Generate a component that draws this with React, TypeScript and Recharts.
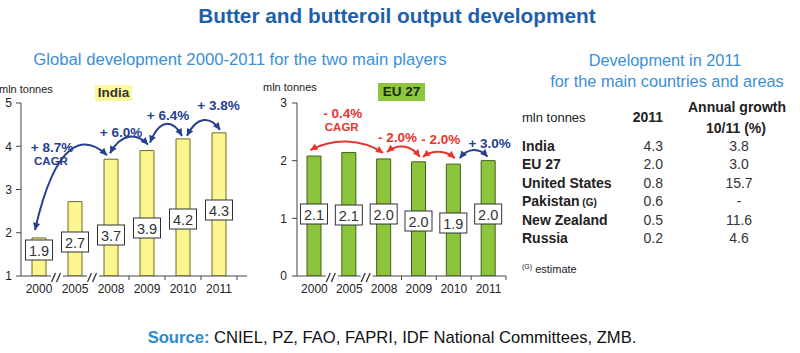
import React from 'react';
import { BarChart, Bar, XAxis, YAxis, ReferenceLine, LabelList } from 'recharts';

const FONT = '"Liberation Sans", Arial, sans-serif';
const NAVY = '#263f8e';
const RED = '#e8342f';
const TITLE_BLUE = '#1f5fa9';
const SUB_BLUE = '#3a8fd6';

// ---------- data ----------
const years = ['2000', '2005', '2008', '2009', '2010', '2011'];
const indiaOutput = [1.88, 2.72, 3.7, 3.9, 4.17, 4.31];
const euOutput = [2.08, 2.14, 2.03, 1.98, 1.94, 2.0];
const indiaTicks = [1, 2, 3, 4, 5];
const euTicks = [0, 1, 2, 3];

const arrowFrom = [0, 2, 3, 4];
const arrowTo = [2, 3, 4, 5];
const indiaGrowth = ['+ 8.7%', '+ 6.0%', '+ 6.4%', '+ 3.8%'];
const euGrowth = ['- 0.4%', '- 2.0%', '- 2.0%', '+ 3.0%'];
const growthNote = ['CAGR', '', '', ''];
const breakFrom = [0, 1];
const breakTo = [1, 2];

const tableCountries = ['India', 'EU 27', 'United States', 'Pakistan', 'New Zealand', 'Russia'];
const tableEstimate = [false, false, false, true, false, false];
const table2011 = [4.3, 2.0, 0.8, 0.6, 0.5, 0.2];
const tableGrowth = ['3.8', '3.0', '15.7', '-', '11.6', '4.6'];

// ---------- layout (annotation placement) ----------
const INDIA_BOX_LIFT = [26, 34, 41, 48, 57, 66];
const EU_BOX_LIFT = [62, 61, 62, 55, 53, 62];
const INDIA_ARROWS = [
  { sdx: -4, edx: -4, sgap: 8, egap: 4, bend: 20, ldx: -19, ldy: -8, color: NAVY },
  { sdx: -1, edx: 1, sgap: 6, egap: 6, bend: 12, ldx: -8, ldy: -12, color: NAVY },
  { sdx: 3, edx: -1, sgap: 8, egap: 3, bend: 17, ldx: 2, ldy: -20, color: NAVY },
  { sdx: 4, edx: 1, sgap: 3, egap: 3, bend: 14, ldx: 15, ldy: -24, color: NAVY },
];
const EU_ARROWS = [
  { sdx: -4, edx: -1, sgap: 6, egap: 6, bend: 12, ldx: -4, ldy: -37, color: RED },
  { sdx: 3, edx: 1, sgap: 7, egap: 5, bend: 8, ldx: -6, ldy: -14, color: RED },
  { sdx: 4, edx: 1, sgap: 5, egap: 6, bend: 7, ldx: 2, ldy: -17, color: RED },
  { sdx: 6, edx: -1, sgap: 6, egap: 4, bend: 9, ldx: 16, ldy: -13, color: NAVY },
];

const indiaData = years.map((year, i) => ({ year, v: indiaOutput[i] }));
const euData = years.map((year, i) => ({ year, v: euOutput[i] }));

function arrowHead(tx: number, ty: number, fx: number, fy: number, color: string) {
  const ang = Math.atan2(ty - fy, tx - fx);
  const L = 7;
  const W = 3.6;
  const bx = tx - L * Math.cos(ang);
  const by = ty - L * Math.sin(ang);
  const px = -Math.sin(ang) * W;
  const py = Math.cos(ang) * W;
  return <polygon points={`${tx},${ty} ${bx + px},${by + py} ${bx - px},${by - py}`} fill={color} />;
}

function makeArrow(cfg: any, label: string, note: string) {
  return (p: any) => {
    const ax = p.x1 + cfg.sdx;
    const ay = p.y1 - cfg.sgap;
    const bx = p.x2 + cfg.edx;
    const by = p.y2 - cfg.egap;
    const top = Math.min(ay, by);
    const yc = top - cfg.bend;
    const dx = bx - ax;
    const c1x = ax + dx * 0.3;
    const c2x = bx - dx * 0.3;
    const path = `M${ax},${ay} C${c1x},${yc} ${c2x},${yc} ${bx},${by}`;
    const lx = (ax + bx) / 2 + cfg.ldx;
    const ly = top + cfg.ldy;
    return (
      <g>
        <path d={path} fill="none" stroke={cfg.color} strokeWidth={2} />
        {arrowHead(ax, ay, c1x, yc, cfg.color)}
        {arrowHead(bx, by, c2x, yc, cfg.color)}
        <text x={lx} y={ly} textAnchor="middle" dominantBaseline="central" fill={cfg.color}
          style={{ fontSize: 13.5, fontWeight: 700, fontFamily: FONT }}>{label}</text>
        {note ? (
          <text x={lx - 1} y={ly + 13.5} textAnchor="middle" dominantBaseline="central" fill={cfg.color}
            style={{ fontSize: 11.5, fontWeight: 700, fontFamily: FONT }}>{note}</text>
        ) : null}
      </g>
    );
  };
}

const BreakShape = (p: any) => {
  const mx = (p.x1 + p.x2) / 2;
  const y = p.y1;
  return (
    <g>
      <rect x={mx - 6} y={y - 2} width={12} height={4} fill="#fff" />
      <line x1={mx - 5.5} y1={y + 6} x2={mx - 1.5} y2={y - 3} stroke="#333" strokeWidth={1.3} />
      <line x1={mx - 0.5} y1={y + 6} x2={mx + 3.5} y2={y - 3} stroke="#333" strokeWidth={1.3} />
    </g>
  );
};

function makeTick(halfBand: number) {
  return (p: any) => {
    const { x, y, payload } = p;
    const idx = payload?.index ?? years.indexOf(String(payload?.value));
    const off = payload?.offset > 0 ? payload.offset : halfBand;
    const axisY = y - 8;
    return (
      <g>
        {idx >= 2 ? <line x1={x + off} y1={axisY} x2={x + off} y2={axisY + 4} stroke="#444" strokeWidth={1} /> : null}
        <text x={x} y={y} dy="0.71em" textAnchor="middle" fill="#222" style={{ fontSize: 12, fontFamily: FONT }}>
          {payload?.value}
        </text>
      </g>
    );
  };
}

function makeBox(lift: number[], values: number[]) {
  return (p: any) => {
    const vb = p.viewBox || {};
    const x = vb.x ?? p.x;
    const y = vb.y ?? p.y;
    const w = vb.width ?? p.width;
    const h = vb.height ?? p.height;
    const idx = p.index ?? 0;
    const val = typeof p.value === 'number' ? p.value : values[idx];
    const cx = x + w / 2;
    const cy = y + h - lift[idx];
    return (
      <g>
        <rect x={cx - 13.5} y={cy - 10} width={27} height={20} fill="#fff" stroke="#333" strokeWidth={1} />
        <text x={cx} y={cy + 1} textAnchor="middle" dominantBaseline="central" fill="#333"
          style={{ fontSize: 14.5, fontFamily: FONT }}>{Number(val).toFixed(1)}</text>
      </g>
    );
  };
}

const axisStroke = '#444';
const tickStyle = { fontSize: 12, fill: '#222', fontFamily: FONT };

function Txt(props: { x: number; y: number; children: any; style?: any; anchor?: 'c' | 'l' | 'r' }) {
  const a = props.anchor || 'c';
  const tx = a === 'c' ? '-50%' : a === 'r' ? '-100%' : '0';
  return (
    <div style={{ position: 'absolute', left: props.x, top: props.y, transform: `translate(${tx},-50%)`, whiteSpace: 'nowrap', lineHeight: 1, ...props.style }}>
      {props.children}
    </div>
  );
}

export default function App() {
  return (
    <div style={{ position: 'absolute', left: 0, top: 0, width: 800, height: 353, background: '#fff', fontFamily: FONT, overflow: 'hidden' }}>
      <Txt x={397} y={16} style={{ fontSize: 20.8, fontWeight: 700, color: TITLE_BLUE }}>Butter and butteroil output development</Txt>
      <Txt x={240} y={60} style={{ fontSize: 16.7, color: SUB_BLUE }}>Global development 2000-2011 for the two main players</Txt>
      <Txt x={665} y={60} style={{ fontSize: 16.3, color: SUB_BLUE }}>Development in 2011</Txt>
      <Txt x={667} y={81} style={{ fontSize: 16.3, color: SUB_BLUE }}>for the main countries and areas</Txt>

      {/* India chart */}
      <div style={{ position: 'absolute', left: 0, top: 0 }}>
        <BarChart width={250} height={301} data={indiaData} margin={{ top: 103, right: 3, bottom: 0, left: 0 }}>
          <XAxis dataKey="year" height={25} padding={{ left: 0, right: 10 }} tickLine={false} tickSize={6} tickMargin={2} axisLine={{ stroke: axisStroke }} tick={makeTick(18)} interval={0} />
          <YAxis type="number" domain={[1, 5]} ticks={indiaTicks} width={21} tickSize={5} tickMargin={4} allowDataOverflow axisLine={{ stroke: axisStroke }} tickLine={{ stroke: axisStroke }} tick={tickStyle} interval={0} />
          <Bar dataKey="v" barSize={14} fill="#fcf68f" stroke="#6f6a22" strokeWidth={1} isAnimationActive={false}>
            <LabelList dataKey="v" content={makeBox(INDIA_BOX_LIFT, indiaOutput)} />
          </Bar>
          {breakFrom.map((f, i) => (
            <ReferenceLine key={`ib${i}`} ifOverflow="visible" zIndex={2000}
              segment={[{ x: years[f], y: indiaTicks[0] }, { x: years[breakTo[i]], y: indiaTicks[0] }]}
              shape={BreakShape} />
          ))}
          {arrowFrom.map((f, i) => (
            <ReferenceLine key={`ia${i}`} ifOverflow="visible" zIndex={2000}
              segment={[{ x: years[f], y: indiaOutput[f] }, { x: years[arrowTo[i]], y: indiaOutput[arrowTo[i]] }]}
              shape={makeArrow(INDIA_ARROWS[i], indiaGrowth[i], growthNote[i])} />
          ))}
        </BarChart>
      </div>

      {/* EU chart */}
      <div style={{ position: 'absolute', left: 250, top: 0 }}>
        <BarChart width={270} height={301} data={euData} margin={{ top: 103, right: 14, bottom: 0, left: 0 }}>
          <XAxis dataKey="year" height={25} tickLine={false} tickSize={6} tickMargin={2} axisLine={{ stroke: axisStroke }} tick={makeTick(17.4)} interval={0} />
          <YAxis type="number" domain={[0, 3]} ticks={euTicks} width={47} tickSize={5} tickMargin={5} allowDataOverflow axisLine={{ stroke: axisStroke }} tickLine={{ stroke: axisStroke }} tick={tickStyle} interval={0} />
          <Bar dataKey="v" barSize={14} fill="#8cc43c" stroke="#3f5f18" strokeWidth={1} isAnimationActive={false}>
            <LabelList dataKey="v" content={makeBox(EU_BOX_LIFT, euOutput)} />
          </Bar>
          {breakFrom.map((f, i) => (
            <ReferenceLine key={`eb${i}`} ifOverflow="visible" zIndex={2000}
              segment={[{ x: years[f], y: euTicks[0] }, { x: years[breakTo[i]], y: euTicks[0] }]}
              shape={BreakShape} />
          ))}
          {arrowFrom.map((f, i) => (
            <ReferenceLine key={`ea${i}`} ifOverflow="visible" zIndex={2000}
              segment={[{ x: years[f], y: euOutput[f] }, { x: years[arrowTo[i]], y: euOutput[arrowTo[i]] }]}
              shape={makeArrow(EU_ARROWS[i], euGrowth[i], growthNote[i])} />
          ))}
        </BarChart>
      </div>

      {/* chart labels */}
      <Txt x={-1} y={89} anchor="l" style={{ fontSize: 11, color: '#222' }}>mln tonnes</Txt>
      <div style={{ position: 'absolute', left: 95, top: 85, width: 37, height: 16, background: '#fdf99b', fontSize: 13.5, fontWeight: 700, color: '#333', textAlign: 'center', lineHeight: '16px' }}>India</div>
      <Txt x={263} y={87} anchor="l" style={{ fontSize: 11, color: '#222' }}>mln tonnes</Txt>
      <div style={{ position: 'absolute', left: 378, top: 83, width: 47, height: 18, background: '#8cc63e', fontSize: 13.5, fontWeight: 700, color: '#1e2a10', textAlign: 'center', lineHeight: '18px' }}>EU 27</div>

      {/* table */}
      <Txt x={522} y={117} anchor="l" style={{ fontSize: 13, color: '#222' }}>mln tonnes</Txt>
      <Txt x={663} y={117} anchor="r" style={{ fontSize: 14, fontWeight: 700, color: '#222' }}>2011</Txt>
      <Txt x={737} y={107} style={{ fontSize: 14, fontWeight: 700, color: '#222' }}>Annual growth</Txt>
      <Txt x={736} y={128} style={{ fontSize: 14, fontWeight: 700, color: '#222' }}>10/11 (%)</Txt>
      {tableCountries.map((c, i) => (
        <React.Fragment key={c}>
          <Txt x={522} y={146 + i * 18.4} anchor="l" style={{ fontSize: 14, fontWeight: 700, color: '#222' }}>
            {c}{tableEstimate[i] ? <span style={{ fontSize: 10 }}> (G)</span> : null}
          </Txt>
          <Txt x={663} y={146 + i * 18.4} anchor="r" style={{ fontSize: 14, color: '#333' }}>{table2011[i].toFixed(1)}</Txt>
          <Txt x={739} y={146 + i * 18.4} style={{ fontSize: 14, color: '#333' }}>{tableGrowth[i]}</Txt>
        </React.Fragment>
      ))}
      <Txt x={522} y={269} anchor="l" style={{ fontSize: 11, color: '#222' }}>
        <sup style={{ fontSize: 7 }}>(G)</sup> estimate
      </Txt>

      <Txt x={392} y={338} style={{ fontSize: 16.6, color: '#111' }}>
        <b style={{ color: '#2b8ad0' }}>Source:</b> CNIEL, PZ, FAO, FAPRI, IDF National Committees, ZMB.
      </Txt>
    </div>
  );
}
